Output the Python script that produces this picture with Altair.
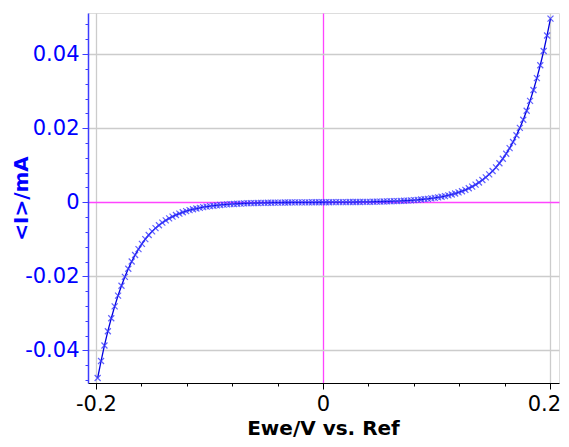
import altair as alt
import pandas as pd

# Potential (V vs. Ref)
ewe = [
    -0.1985, -0.1955, -0.1925, -0.1895, -0.1865, -0.1835, -0.1805, -0.1775, -0.1745, -0.1715,
    -0.1685, -0.1655, -0.1625, -0.1595, -0.1565, -0.1535, -0.1505, -0.1475, -0.1445, -0.1415,
    -0.1385, -0.1355, -0.1325, -0.1295, -0.1265, -0.1235, -0.1205, -0.1175, -0.1145, -0.1115,
    -0.1085, -0.1055, -0.1025, -0.0995, -0.0965, -0.0935, -0.0905, -0.0875, -0.0845, -0.0815,
    -0.0785, -0.0755, -0.0725, -0.0695, -0.0665, -0.0635, -0.0605, -0.0575, -0.0545, -0.0515,
    -0.0485, -0.0455, -0.0425, -0.0395, -0.0365, -0.0335, -0.0305, -0.0275, -0.0245, -0.0215,
    -0.0185, -0.0155, -0.0125, -0.0095, -0.0065, -0.0035, -0.0005, 0.0025, 0.0055, 0.0085,
    0.0115, 0.0145, 0.0175, 0.0205, 0.0235, 0.0265, 0.0295, 0.0325, 0.0355, 0.0385,
    0.0415, 0.0445, 0.0475, 0.0505, 0.0535, 0.0565, 0.0595, 0.0625, 0.0655, 0.0685,
    0.0715, 0.0745, 0.0775, 0.0805, 0.0835, 0.0865, 0.0895, 0.0925, 0.0955, 0.0985,
    0.1015, 0.1045, 0.1075, 0.1105, 0.1135, 0.1165, 0.1195, 0.1225, 0.1255, 0.1285,
    0.1315, 0.1345, 0.1375, 0.1405, 0.1435, 0.1465, 0.1495, 0.1525, 0.1555, 0.1585,
    0.1615, 0.1645, 0.1675, 0.1705, 0.1735, 0.1765, 0.1795, 0.1825, 0.1855, 0.1885,
    0.1915, 0.1945, 0.1975, 0.2005,
]

# Current <I> (mA)
current = [
    -0.04745, -0.04287, -0.03867, -0.03482, -0.03131, -0.02810, -0.02519, -0.02254, -0.02014, -0.01796,
    -0.01600, -0.01423, -0.01264, -0.01122, -0.00997, -0.00885, -0.00787, -0.00699, -0.00621, -0.00551,
    -0.00490, -0.00435, -0.00386, -0.00343, -0.00305, -0.00271, -0.00240, -0.00214, -0.00190, -0.00169,
    -0.00150, -0.00133, -0.00118, -0.00105, -0.00093, -0.00083, -0.00073, -0.00065, -0.00058, -0.00051,
    -0.00046, -0.00040, -0.00036, -0.00032, -0.00028, -0.00025, -0.00022, -0.00020, -0.00017, -0.00015,
    -0.00014, -0.00012, -0.00011, -0.00009, -0.00008, -0.00007, -0.00006, -0.00005, -0.00004, -0.00004,
    -0.00003, -0.00002, -0.00002, -0.00001, -0.00001, 0.00000, 0.00000, 0.00001, 0.00001, 0.00002,
    0.00003, 0.00003, 0.00004, 0.00005, 0.00006, 0.00006, 0.00007, 0.00008, 0.00010, 0.00011,
    0.00012, 0.00014, 0.00016, 0.00018, 0.00020, 0.00023, 0.00026, 0.00029, 0.00032, 0.00036,
    0.00041, 0.00046, 0.00052, 0.00058, 0.00065, 0.00074, 0.00083, 0.00093, 0.00104, 0.00117,
    0.00132, 0.00148, 0.00166, 0.00187, 0.00210, 0.00236, 0.00265, 0.00298, 0.00335, 0.00377,
    0.00423, 0.00476, 0.00534, 0.00600, 0.00673, 0.00754, 0.00843, 0.00943, 0.01054, 0.01176,
    0.01311, 0.01461, 0.01626, 0.01808, 0.02008, 0.02229, 0.02471, 0.02737, 0.03030, 0.03350,
    0.03700, 0.04084, 0.04503, 0.04960,
]

x_ticks = [-0.2, -0.16, -0.12, -0.08, -0.04, 0, 0.04, 0.08, 0.12, 0.16, 0.2]
x_labeled = [-0.2, 0, 0.2]
y_ticks = [-0.048, -0.044, -0.04, -0.036, -0.032, -0.028, -0.024, -0.02, -0.016, -0.012,
           -0.008, -0.004, 0, 0.004, 0.008, 0.012, 0.016, 0.02, 0.024, 0.028, 0.032,
           0.036, 0.04, 0.044, 0.048]
y_labeled = [-0.04, -0.02, 0, 0.02, 0.04]

df = pd.DataFrame({"ewe": ewe, "i": current})

FONT = "DejaVu Sans"
BLUE = "#0000ff"
AXBLUE = "#3c3cff"
MAGENTA = "#ff44ff"
GRID = "#cccccc"

x_major = f"indexof({x_labeled}, datum.value) >= 0"
y_major = f"indexof({y_labeled}, datum.value) >= 0"

x_axis = alt.Axis(
    values=x_ticks,
    labelExpr=f"{x_major} ? toString(datum.value) : ''",
    labelOffset={"condition": {"test": "datum.value === 0.2", "value": -6}, "value": 0},
    tickSize={"condition": {"test": x_major, "value": 6}, "value": 3},
    grid=True,
    gridColor={"condition": {"test": "datum.value === 0", "value": MAGENTA}, "value": GRID},
    gridOpacity={"condition": {"test": x_major, "value": 1}, "value": 0},
    gridWidth=1.3,
    domainColor="black",
    domainWidth=1.2,
    tickColor="black",
    labelColor="black",
    labelFont=FONT,
    labelFontSize=21,
    labelPadding=4,
    labelFlush=False,
    labelOverlap=False,
    title="Ewe/V vs. Ref",
    titleFont=FONT,
    titleFontSize=20,
    titleFontWeight="bold",
    titleColor="black",
    titleX=235,
    titleY=51,
    titleAlign="center",
    titleBaseline="alphabetic",
)

y_axis = alt.Axis(
    values=y_ticks,
    labelExpr=f"{y_major} ? toString(datum.value) : ''",
    tickSize={"condition": {"test": y_major, "value": 6}, "value": 3},
    grid=True,
    gridColor={"condition": {"test": "datum.value === 0", "value": MAGENTA}, "value": GRID},
    gridOpacity={"condition": {"test": y_major, "value": 1}, "value": 0},
    gridWidth=1.3,
    domainColor=AXBLUE,
    domainWidth=1.5,
    tickColor=AXBLUE,
    labelColor=BLUE,
    labelFont=FONT,
    labelFontSize=21,
    labelPadding=3,
    labelFlush=False,
    labelOverlap=False,
    title="<I>/mA",
    titleFont=FONT,
    titleFontSize=20,
    titleFontWeight="bold",
    titleColor=BLUE,
    titleAngle=270,
    titleX=-61,
    titleY=185,
    titleAlign="center",
    titleBaseline="alphabetic",
)

x_enc = alt.X("ewe:Q", scale=alt.Scale(domain=[-0.207, 0.208], nice=False, zero=False), axis=x_axis)
y_enc = alt.Y("i:Q", scale=alt.Scale(domain=[-0.0488, 0.0511], nice=False, zero=False), axis=y_axis)

line = alt.Chart(df).mark_line(color="#0000e0", strokeWidth=1.3).encode(x=x_enc, y=y_enc, order="ewe:Q")
pts = alt.Chart(df).mark_point(
    shape="M-1,-1L1,1M-1,1L1,-1", size=36, filled=False, stroke="#3a3aff",
    strokeWidth=1.2, opacity=0.8,
).encode(x=x_enc, y=y_enc)

chart = (
    alt.layer(line, pts)
    .properties(
        width=471,
        height=370,
        autosize=alt.AutoSizeParams(type="none"),
        padding={"left": 80, "top": 5, "right": 2, "bottom": 56},
    )
    .configure_view(stroke="black", strokeWidth=1.2)
    .configure(background="white")
)

chart.save("out.html", embed_options={"renderer": "svg", "actions": False})
